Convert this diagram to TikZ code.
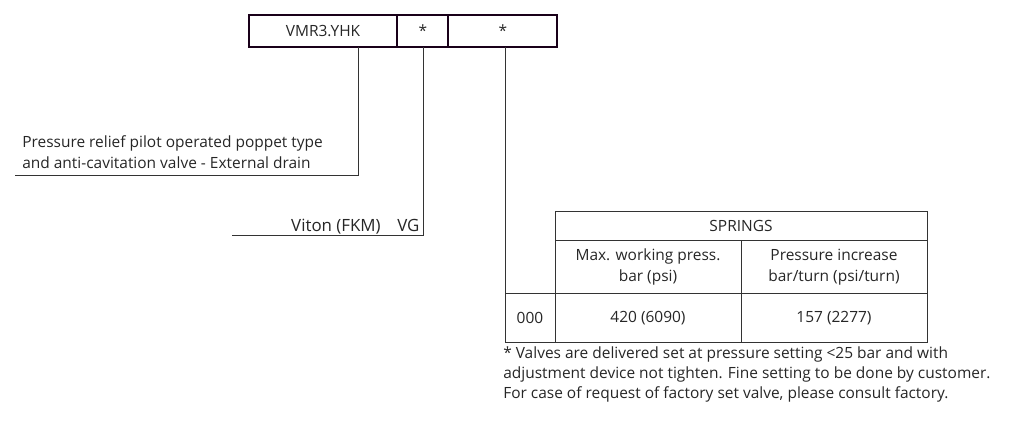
\documentclass[tikz,border=0pt]{standalone}
\usepackage{fontspec}
\setmainfont{Open Sans}
\begin{document}
\begin{tikzpicture}[x=0.025cm,y=-0.025cm,
txt/.style = {inner sep = 0pt, font = \fontsize{11}{14.5}\selectfont, text = black!85},
cell/.style = {txt, align = center},
ln/.style = {draw = black!80, line width = 0.5pt},
]
\useasboundingbox (0,0) rectangle (1012,442);
% code box
\draw[draw = black!80!violet, line width = 1.6pt] (249,15) rectangle (557,47);
\draw[draw = black!80!violet, line width = 1.6pt] (397,15) -- (397,47) (448,15) -- (448,47);
\node[cell] (code) at (323,31) {VMR3.YHK};
\node[cell] (seal) at (423,31) {*};
\node[cell] (spring) at (503,31) {*};
% leader lines
\coordinate (c1) at (358,47);
\coordinate (c2) at (423,47);
\coordinate (c3) at (505,47);
\draw[ln] (c1) |- (15,175);
\draw[ln] (c2) |- (232,235);
\node[txt, anchor = base west] (desc1) at (22,147) {Pressure relief pilot operated poppet type};
\node[txt, anchor = base west] (desc2) at (22,168) {and anti-cavitation valve - External drain};
\node[txt, anchor = base east, font = \fontsize{12}{14}\selectfont] (viton) at (381,231) {Viton (FKM)};
\node[txt, anchor = base west, font = \fontsize{12}{14}\selectfont] (vg) at (397,231) {VG};
% table
\draw[ln] (c3) -- (505,342) -- (927,342) -- (927,211) -- (555,211) -- (555,342);
\draw[ln] (555,240) -- (927,240) (505,293) -- (927,293) (741,240) -- (741,342);
\node[cell] (springs) at (741,226) {SPRINGS};
\node[cell] (maxp) at (648,267) {Max. working press.\\bar (psi)};
\node[cell] (incr) at (834,267) {Pressure increase\\bar/turn (psi/turn)};
\node[cell] (n000) at (530,318) {000};
\node[cell] (v1) at (648,318) {420 (6090)};
\node[cell] (v2) at (834,318) {157 (2277)};
% note
\node[txt, anchor = north west, align = left] (note) at (503,346) {* Valves are delivered set at pressure setting <25 bar and with\\adjustment device not tighten. Fine setting to be done by customer.\\For case of request of factory set valve, please consult factory.};
\end{tikzpicture}
\end{document}
